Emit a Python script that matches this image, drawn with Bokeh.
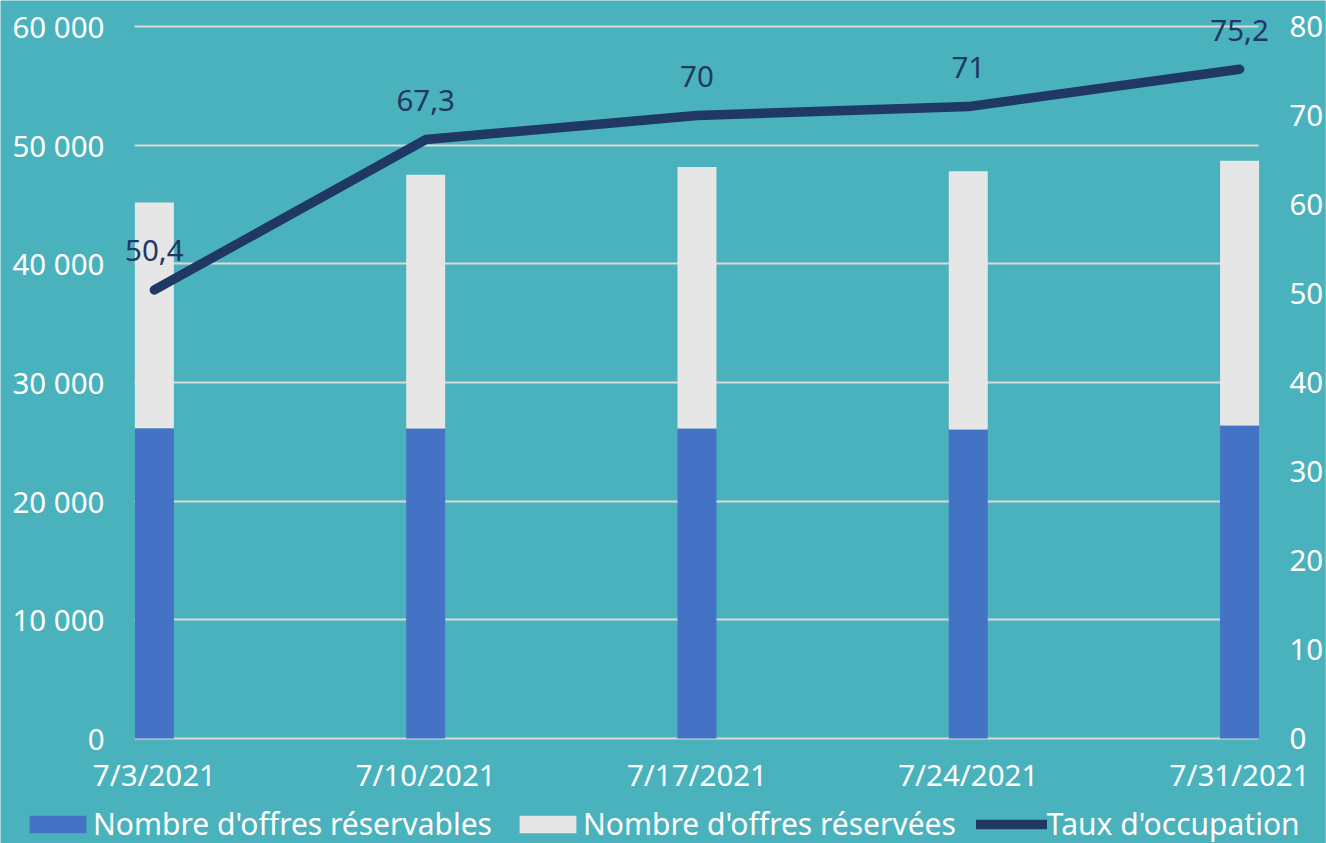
from bokeh.plotting import figure
from bokeh.models import Range1d, LinearAxis, FixedTicker, Legend, LegendItem, ColumnDataSource
from bokeh.core.properties import value
from bokeh.embed import file_html
from bokeh.resources import INLINE

# ---- data ----
dates = ["7/3/2021", "7/10/2021", "7/17/2021", "7/24/2021", "7/31/2021"]
reservables = [26150, 26120, 26120, 26040, 26380]
reservees = [19020, 21380, 22030, 21760, 22300]
taux = [50.4, 67.3, 70.0, 71.0, 75.2]
left_ticks = [0, 10000, 20000, 30000, 40000, 50000, 60000]
left_tick_labels = ["0", "10 000", "20 000", "30 000", "40 000", "50 000", "60 000"]
right_ticks = [0, 10, 20, 30, 40, 50, 60, 70, 80]
right_tick_labels = ["0", "10", "20", "30", "40", "50", "60", "70", "80"]
series_names = ["Nombre d'offres réservables", "Nombre d'offres réservées", "Taux d'occupation"]

# ---- style ----
BG = "#4AB2BC"
BLUE = "#4472C4"
GRAY = "#E7E6E6"
NAVY = "#1F3864"
GRID = "#D9D9D9"
FONT = "Noto Sans"
FS = "29.5px"

# ---- geometry (pixels) ----
W, H = 1326, 843
PT, PB = 26, 738                         # top / bottom of value scale
BOX_L, BOX_R = 134, 1259                 # visible plot box
C0, C4 = 154, 1240                       # centres of first and last bar
unit = (C4 - C0) / 4.0
BAR_W = 39 / unit
x_start = -C0 / unit
x_end = 4 + (W - C4) / unit
box_lo, box_hi = -(C0 - BOX_L) / unit, 4 + (BOX_R - C4) / unit
ymax_l = max(left_ticks)
ymax_r = max(right_ticks)
sc = (PB - PT)
y_rng_l = (-ymax_l * (H - PB) / sc, ymax_l * (1 + PT / sc))
y_rng_r = (-ymax_r * (H - PB) / sc, ymax_r * (1 + PT / sc))

xs = list(range(len(dates)))
taux_labels = [f"{v:g}".replace(".", ",") for v in taux]

src = ColumnDataSource(dict(x=xs, res=reservables, rsv=reservees))
line_src = ColumnDataSource(dict(x=xs, y=taux, lab=taux_labels))

p = figure(width=W, height=H,
           x_range=Range1d(x_start, x_end), y_range=Range1d(*y_rng_l),
           output_backend="svg", toolbar_location=None,
           min_border_left=0, min_border_right=0, min_border_top=0, min_border_bottom=0,
           background_fill_color=BG, border_fill_color=BG, outline_line_color=None)
p.extra_y_ranges = {"right": Range1d(*y_rng_r)}

p.xgrid.visible = False
g = p.ygrid[0]
g.ticker = FixedTicker(ticks=left_ticks)
g.grid_line_color = GRID
g.grid_line_width = 2
if "cross_bounds" in g.properties():
    g.cross_bounds = (box_lo, box_hi)

bars = p.vbar_stack(["res", "rsv"], x="x", width=BAR_W, color=[BLUE, GRAY],
                    line_color=None, source=src)
ln = p.line("x", "y", source=line_src, y_range_name="right", line_width=9.5,
            line_color=NAVY, line_cap="round", line_join="round")
p.text("x", "y", text="lab", source=line_src, y_range_name="right",
       text_align="center", text_baseline="alphabetic", y_offset=-39,
       text_font=value(FONT), text_font_size=FS, text_color=NAVY)

# axes
def style_axis(ax, ticks, labels, standoff):
    ax.ticker = FixedTicker(ticks=ticks)
    ax.major_label_overrides = {t: l for t, l in zip(ticks, labels)}
    ax.major_tick_line_color = None
    ax.minor_tick_line_color = None
    ax.major_tick_out = 0
    ax.major_tick_in = 0
    ax.major_label_standoff = standoff
    ax.major_label_text_font = FONT
    ax.major_label_text_font_size = FS
    ax.major_label_text_color = "white"
    ax.axis_line_color = None

style_axis(p.yaxis[0], left_ticks, left_tick_labels, -104)
style_axis(p.xaxis[0], xs, dates, (PB + 15) - H)

rax = LinearAxis(y_range_name="right")
style_axis(rax, right_ticks, right_tick_labels, 1290 - W)
p.add_layout(rax, "right")

legend = Legend(items=[LegendItem(label=series_names[0], renderers=[bars[0]]),
                       LegendItem(label=series_names[1], renderers=[bars[1]]),
                       LegendItem(label=series_names[2], renderers=[ln])],
                location=(22, -1), orientation="horizontal",
                spacing=20, glyph_width=71, glyph_height=22, label_standoff=0,
                label_text_font=FONT, label_text_font_size="30px", label_text_color="white",
                background_fill_alpha=0, border_line_alpha=0, padding=0, margin=0)
p.add_layout(legend)

open("out.html", "w").write(file_html(p, INLINE))
